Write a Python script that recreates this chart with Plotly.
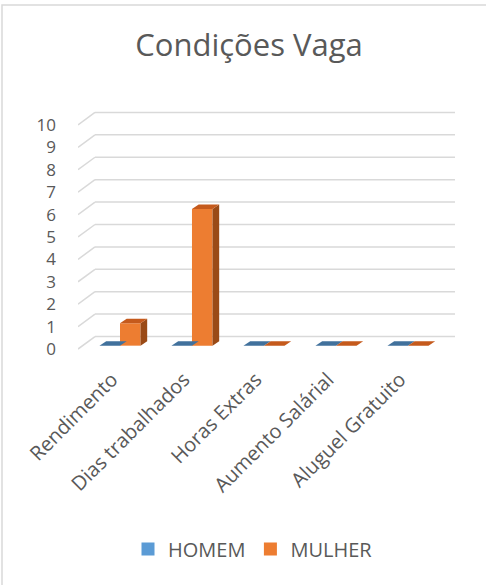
import plotly.graph_objects as go

categories = ["Rendimento", "Dias trabalhados", "Horas Extras", "Aumento Salárial", "Aluguel Gratuito"]
homem = [0, 0, 0, 0, 0]
mulher = [1, 6.1, 0, 0, 0]
y_ticks = list(range(0, 11))

W, H = 486, 585
ML, MR, MT, MB = 78, 31, 107, 227
X_RANGE = [-0.583, 4.653]
Y_RANGE = [-0.4, 10.8]
TXT = "#595959"
FONT = "Open Sans"

# 3D styling constants (in axis units)
BASE = 0.15          # bars sit slightly behind front plane
BW = 0.285           # bar width
DX, DY = 0.093, 0.2  # bar depth offset
GDX, GDY = 0.236, 0.558  # wall depth offset for gridlines

series = [
    ("HOMEM", homem, "#5B9BD5", "#41719C", "#2E5A85", -BW / 2),
    ("MULHER", mulher, "#ED7D31", "#C55A1C", "#9A4A16", BW / 2),
]

fig = go.Figure()
xs = list(range(len(categories)))

for name, vals, col, topc, sidec, off in series:
    fig.add_trace(go.Bar(
        x=[i + off for i in xs], y=vals, base=[BASE] * len(vals), width=BW,
        name=name, marker=dict(color=col, line=dict(width=0)), showlegend=False,
    ))

for name, vals, col, topc, sidec, off in series:
    for i, v in zip(xs, vals):
        x0 = i + off - BW / 2
        x1 = x0 + BW
        yb = BASE
        yt = BASE + v
        if v > 0:
            fig.add_trace(go.Scatter(
                x=[x1, x1 + DX, x1 + DX, x1, x1], y=[yb, yb + DY, yt + DY, yt, yb],
                fill="toself", fillcolor=sidec, mode="lines", line=dict(width=0, color=sidec),
                showlegend=False, hoverinfo="skip"))
        fig.add_trace(go.Scatter(
            x=[x0, x1, x1 + DX, x0 + DX, x0], y=[yt, yt, yt + DY, yt + DY, yt],
            fill="toself", fillcolor=topc, mode="lines", line=dict(width=0, color=topc),
            showlegend=False, hoverinfo="skip"))

# legend entries (square swatches)
for name, vals, col, topc, sidec, off in series:
    fig.add_trace(go.Scatter(x=[None], y=[None], mode="markers", name=name,
                             marker=dict(symbol="square", size=13, color=col)))

# gridlines with 3D wall look
for t in y_ticks:
    fig.add_shape(type="line", xref="x", yref="y", x0=X_RANGE[0], y0=t,
                  x1=X_RANGE[0] + GDX, y1=t + GDY, line=dict(color="#D9D9D9", width=1.5), layer="below")
    fig.add_shape(type="line", xref="x", yref="y", x0=X_RANGE[0] + GDX, y0=t + GDY,
                  x1=X_RANGE[1], y1=t + GDY, line=dict(color="#D9D9D9", width=1.5), layer="below")

# outer border
pw = W - ML - MR
ph = H - MT - MB
fig.add_shape(type="rect", xref="paper", yref="paper",
              x0=(2 - ML) / pw, x1=(492 - ML) / pw,
              y0=(H - MB - 592) / ph, y1=(H - MB - 5) / ph,
              line=dict(color="#D9D9D9", width=1.5), fillcolor="rgba(0,0,0,0)", layer="below")

fig.update_layout(
    width=W, height=H,
    margin=dict(l=ML, r=MR, t=MT, b=MB, autoexpand=False),
    paper_bgcolor="white", plot_bgcolor="white",
    barmode="overlay",
    font=dict(family=FONT, color=TXT),
    title=dict(text="Condições Vaga", x=249 / W, xanchor="center", xref="container",
               y=1 - 45 / H, yanchor="middle", yref="container",
               font=dict(size=31, color=TXT, family=FONT)),
    xaxis=dict(range=X_RANGE, tickmode="array", tickvals=xs, ticktext=categories,
               tickangle=-45, showgrid=False, zeroline=False, showline=False,
               tickfont=dict(size=20, color=TXT), ticklabelstandoff=5, ticklabelshift=-8,
               fixedrange=True),
    yaxis=dict(range=Y_RANGE, tickmode="array", tickvals=y_ticks, ticktext=[str(t) for t in y_ticks],
               showgrid=False, zeroline=False, showline=False,
               tickfont=dict(size=17, color=TXT), ticklabelstandoff=21, fixedrange=True),
    legend=dict(orientation="h", x=253 / W, xanchor="center", xref="container",
                y=1 - 549 / H, yanchor="middle", yref="container",
                font=dict(size=20, color=TXT), itemwidth=30, traceorder="normal"),
    showlegend=True,
)

fig.write_html("out.html", config={"displayModeBar": False},
               post_script="document.body.style.margin='0';document.body.style.overflow='hidden';")
